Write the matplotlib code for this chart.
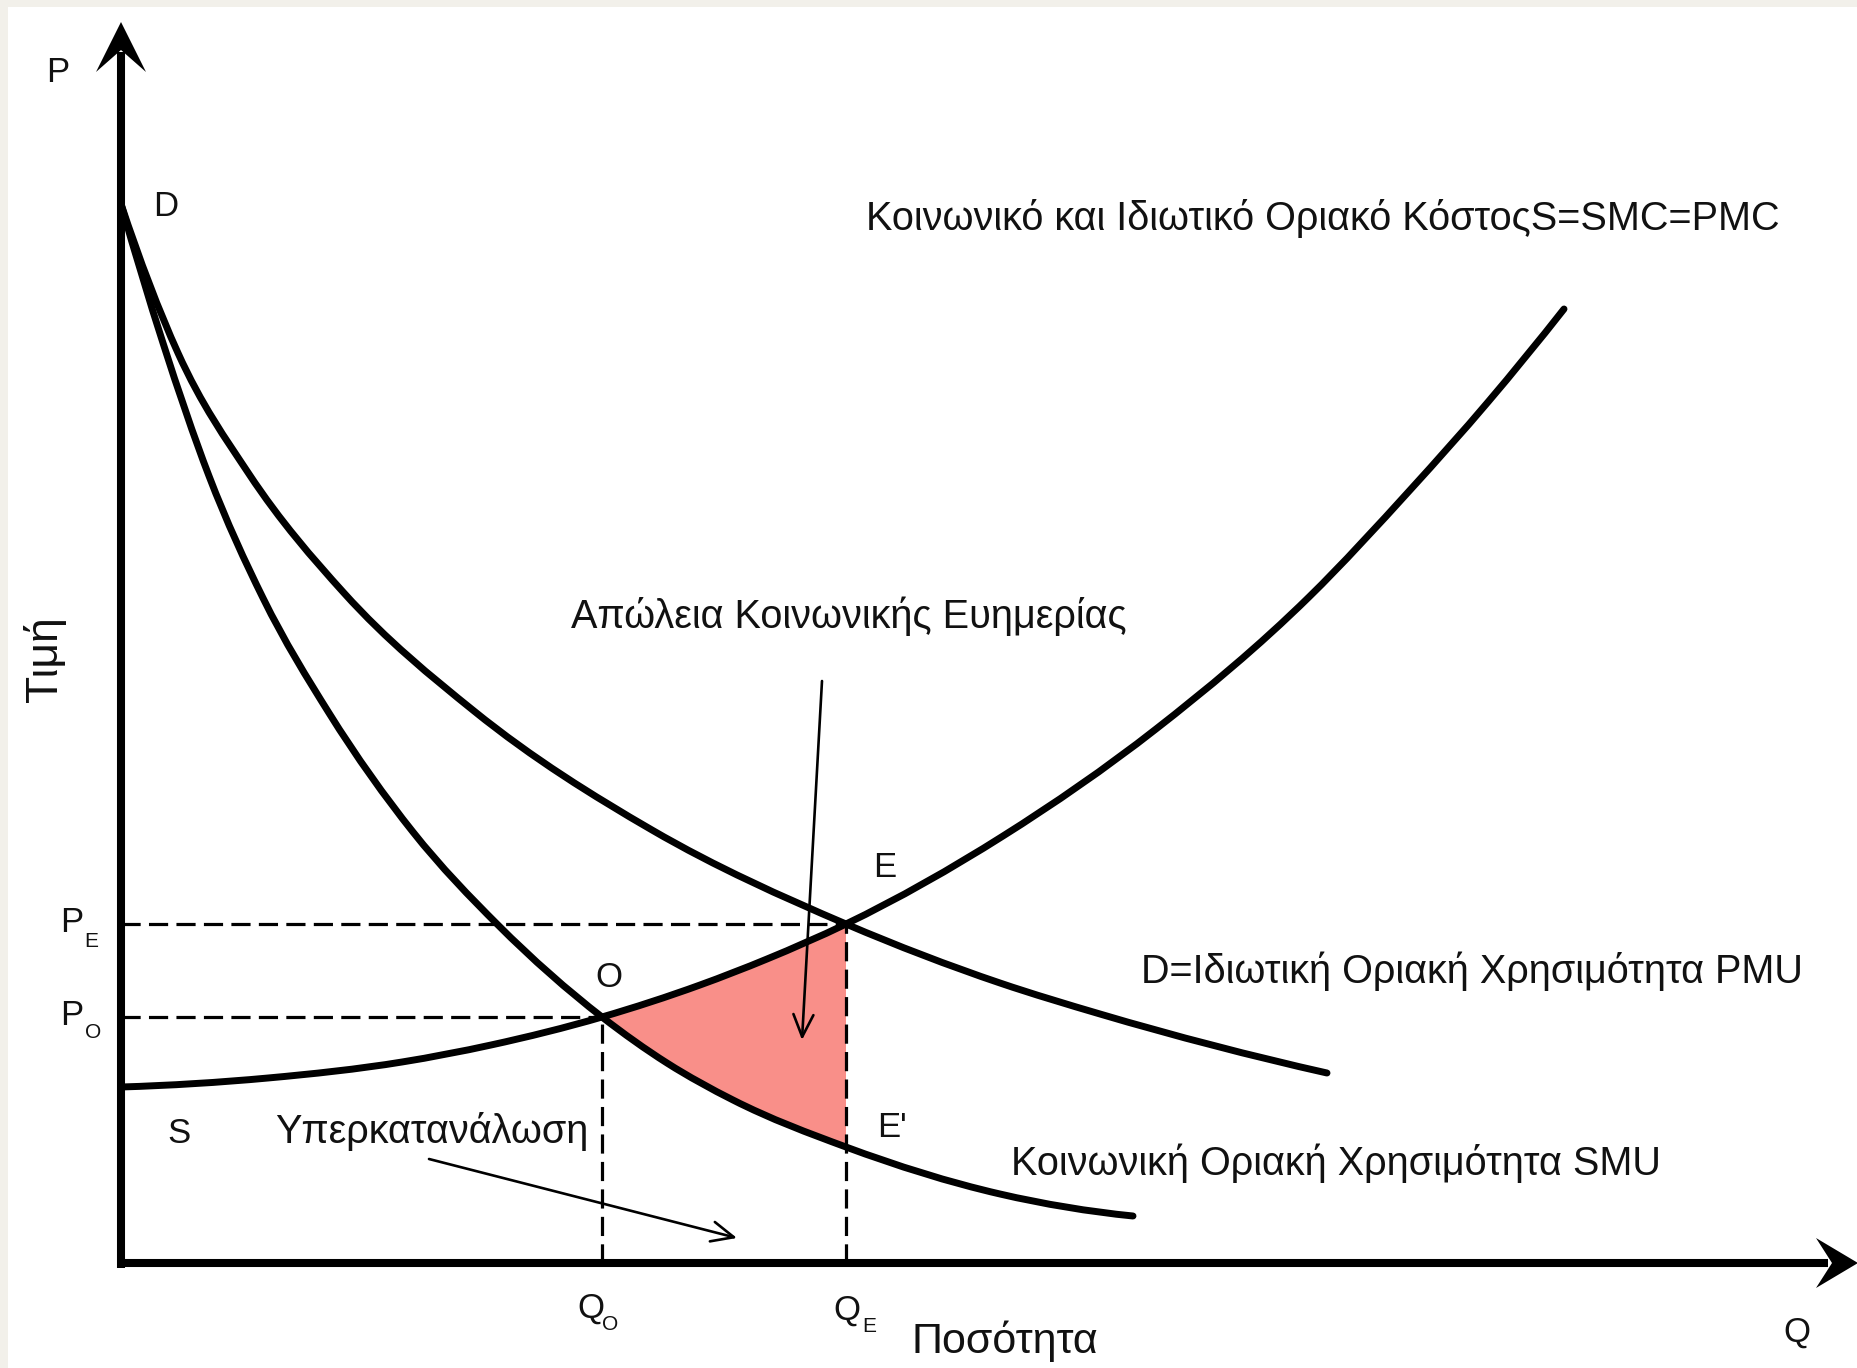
import matplotlib
matplotlib.use("Agg")
import numpy as np
import matplotlib.pyplot as plt
from matplotlib.path import Path
from matplotlib.patches import Polygon, Rectangle, FancyArrowPatch, PathPatch

plt.rcParams['font.family'] = ['Liberation Sans', 'DejaVu Sans']

# curves (quantity, price)
smu_q = [0.00, 0.42, 0.88, 1.42, 2.08, 2.92, 3.77, 4.81, 5.46, 6.12, 7.25, 8.79, 10.12]
smu_p = [10.59, 9.20, 7.87, 6.65, 5.50, 4.31, 3.38, 2.46, 2.00, 1.63, 1.16, 0.69, 0.47]

pmu_q = [0.00, 0.57, 1.28, 2.23, 3.53, 5.31, 7.25, 8.79, 9.79, 12.06]
pmu_p = [10.59, 9.10, 7.89, 6.70, 5.52, 4.33, 3.39, 2.80, 2.49, 1.90]

smc_q = [0.00, 1.47, 2.81, 3.70, 4.81, 5.79, 6.46, 7.25, 8.82, 10.35, 11.88, 12.90, 13.67, 14.43]
smc_p = [1.76, 1.85, 2.01, 2.18, 2.46, 2.78, 3.04, 3.39, 4.27, 5.34, 6.66, 7.74, 8.61, 9.54]

q_o, q_e = 4.81, 7.25
p_o, p_e = 2.46, 3.39

x_end, y_end = 17.37, 12.41


def curve_path(q, p):
    '''
    smooth path through the read points: cubic hermite pieces written as bezier
    :param q: quantities (increasing)
    :param p: prices
    :return: vertices, codes
    '''
    q = np.asarray(q, float)
    p = np.asarray(p, float)
    h = np.diff(q)
    d = np.diff(p) / h
    m = np.empty_like(q)
    m[1:-1] = (h[:-1] * d[1:] + h[1:] * d[:-1]) / (h[:-1] + h[1:])
    m[0] = ((2 * h[0] + h[1]) * d[0] - h[0] * d[1]) / (h[0] + h[1])
    m[-1] = ((2 * h[-1] + h[-2]) * d[-1] - h[-1] * d[-2]) / (h[-1] + h[-2])
    verts = [(q[0], p[0])]
    codes = [Path.MOVETO]
    for i in range(len(q) - 1):
        verts += [(q[i] + h[i] / 3, p[i] + m[i] * h[i] / 3),
                  (q[i + 1] - h[i] / 3, p[i + 1] - m[i + 1] * h[i] / 3),
                  (q[i + 1], p[i + 1])]
        codes += [Path.CURVE4] * 3
    return verts, codes


def reverse_path(verts, codes):
    return verts[::-1], [Path.MOVETO] + codes[1:]


fig = plt.figure(figsize=(18.58, 13.68), dpi=100)
fig.patch.set_facecolor('#f2f0ea')
ax = fig.add_axes([0, 0, 1, 1])
ax.set_xlim(-1.21, 17.37)
ax.set_ylim(-1.05, 12.63)
ax.axis('off')
ax.add_patch(Rectangle((8 / 1858, 0), 1, 1 - 7 / 1368, transform=fig.transFigure,
                       facecolor='white', edgecolor='none', zorder=0))

# deadweight loss area between S and SMU from Qo to Qe
smc_q_a, smc_p_a = np.array(smc_q), np.array(smc_p)
smu_q_a, smu_p_a = np.array(smu_q), np.array(smu_p)
top = (smc_q_a >= q_o) & (smc_q_a <= q_e)
bot = (smu_q_a >= q_o) & (smu_q_a <= q_e)
v1, c1 = curve_path(smc_q_a[top], smc_p_a[top])
v2, c2 = reverse_path(*curve_path(smu_q_a[bot], smu_p_a[bot]))
c2[0] = Path.LINETO
area = Path(v1 + v2 + [v1[0]], c1 + c2 + [Path.CLOSEPOLY])
ax.add_patch(PathPatch(area, facecolor='#f98f89', lw=0, zorder=1))

# dashed guide lines
dash = dict(color='black', lw=2.3, dashes=(6, 2.6), zorder=2)
ax.plot([0, q_e], [p_e, p_e], **dash)
ax.plot([0, q_o], [p_o, p_o], **dash)
ax.plot([q_o, q_o], [0, p_o], **dash)
ax.plot([q_e, q_e], [0, p_e], **dash)

# curves
for q, p in [(smu_q, smu_p), (pmu_q, pmu_p), (smc_q, smc_p)]:
    v, c = curve_path(q, p)
    ax.add_patch(PathPatch(Path(v, c), facecolor='none', edgecolor='black', lw=5.0,
                           capstyle='round', joinstyle='round', zorder=3))

# axes with arrow heads
ax.plot([0, 0], [-0.05, y_end - 0.3], color='black', lw=5.8, solid_capstyle='butt', zorder=4)
ax.plot([-0.03, x_end - 0.3], [0, 0], color='black', lw=5.8, solid_capstyle='butt', zorder=4)
ax.add_patch(Polygon([(0, y_end), (0.25, y_end - 0.5), (0, y_end - 0.28), (-0.25, y_end - 0.5)],
                     closed=True, color='black', lw=0, zorder=5))
ax.add_patch(Polygon([(x_end, 0), (x_end - 0.42, 0.25), (x_end - 0.26, 0), (x_end - 0.42, -0.25)],
                     closed=True, color='black', lw=0, zorder=5))

# pointer arrows
for (a, b) in [((7.01, 5.82), (6.81, 2.23)), ((3.08, 1.04), (6.16, 0.25))]:
    ax.add_patch(FancyArrowPatch(a, b, arrowstyle='->,head_length=1.0,head_width=0.45',
                                 mutation_scale=16, lw=1.9, color='black',
                                 shrinkA=0, shrinkB=0, zorder=6))

big = 28.5   # long greek labels
fs = 25      # single letters
sub = 15     # subscripts
labels = [
    ('P', -0.75, 11.81, fs),
    ('D', 0.32, 10.47, fs),
    ('Κοινωνικό και Ιδιωτικό Οριακό ΚόστοςS=SMC=PMC', 7.45, 10.33, big),
    ('Απώλεια Κοινωνικής Ευημερίας', 4.50, 6.35, big),
    ('E', 7.52, 3.86, fs),
    ('O', 4.74, 2.76, fs),
    ("E'", 7.56, 1.26, fs),
    ('D=Ιδιωτική Οριακή Χρησιμότητα PMU', 10.20, 2.80, big),
    ('Κοινωνική Οριακή Χρησιμότητα SMU', 8.90, 0.88, big),
    ('S', 0.46, 1.20, fs),
    ('Υπερκατανάλωση', 1.54, 1.20, big),
    ('P', -0.61, 3.31, fs), ('E', -0.37, 3.16, sub),
    ('P', -0.61, 2.38, fs), ('O', -0.36, 2.25, sub),
    ('Q', 4.56, -0.55, fs), ('O', 4.81, -0.67, sub),
    ('Q', 7.12, -0.57, fs), ('E', 7.41, -0.69, sub),
    ('Ποσότητα', 7.91, -0.90, 31),
    ('Q', 16.62, -0.79, fs),
]
for txt, x, y, size in labels:
    ax.text(x, y, txt, fontsize=size, ha='left', va='baseline', color='#111111', zorder=7)
ax.text(-0.76, 6.04, 'Τιμή', fontsize=32, rotation=90, ha='center', va='center',
        color='#111111', zorder=7)

fig.savefig('out.png', dpi=100, facecolor=fig.get_facecolor())
